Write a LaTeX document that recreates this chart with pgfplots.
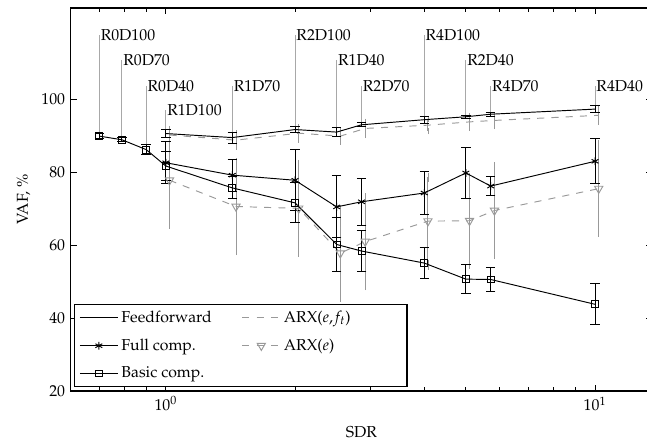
\documentclass[border=0pt]{standalone}
\usepackage[T1]{fontenc}
\usepackage{mathpazo}
\usepackage{pgfplots}
\usepackage{pgfplotstable}
\pgfplotsset{compat=1.18}
\usetikzlibrary{calc}

\definecolor{arxgray}{gray}{0.6}
\definecolor{pingray}{gray}{0.66}

% SDR, VAF (%), std
\pgfplotstableread{
x      y     e
1.0    90.6  1.2
1.4286 89.5  1.5
2.0    91.7  0.8
2.5    91.0  1.2
2.857  93.0  0.5
4.0    94.4  0.9
5.0    95.2  0.4
5.714  95.9  0.5
10     97.3  0.9
}\feedforward

\pgfplotstableread{
x      y     e
1.0    82.6  5.8
1.4286 79.2  4.4
2.0    77.8  8.3
2.5    70.5  8.5
2.857  71.9  6.5
4.0    74.3  6.0
5.0    79.8  7.0
5.714  76.2  2.6
10     83.0  6.2
}\fullcomp

\pgfplotstableread{
x      y     e
0.7    89.9  0.6
0.79   88.9  0.5
0.9    86.2  1.4
1.0    81.7  4.0
1.4286 75.7  3.0
2.0    71.6  5.5
2.5    60.2  7.3
2.857  58.4  5.6
4.0    55.1  4.2
5.0    50.7  4.0
5.714  50.6  3.2
10     43.8  5.6
}\basiccomp

% ARX points sit slightly to the right of their SDR
\pgfplotstableread{
x      y     e
1.02   90.2  1.6
1.457  88.8  1.8
2.04   90.7  1.7
2.55   89.9  1.5
2.914  92.0  1.8
4.08   92.9  1.6
5.10   93.8  1.6
5.829  94.2  1.5
10.2   95.6  1.7
}\arxef

\pgfplotstableread{
x      y     e
1.02   77.8  12.0
1.457  70.6  12.0
2.04   70.1  12.0
2.55   57.8  12.0
2.914  61.0  12.0
4.08   66.6  12.0
5.10   66.7  11.8
5.829  69.5  12.0
10.2   75.5  11.9
}\arxe

\begin{document}
\begin{tikzpicture}
\begin{axis}[
    scale only axis, width=367.9pt, height=242.4pt,
    xmode=log, xmin=0.6, xmax=13.58,
    ymin=20, ymax=125,
    ytick={20,40,60,80,100},
    tick align=inside,
    major tick length=4pt, minor tick length=2.5pt,
    axis line style={line width=0.9pt},
    every tick/.style={black, line width=0.5pt},
    xlabel={SDR}, ylabel={VAF, \%},
    xlabel style={yshift=-3pt},
    legend columns=2,
    legend cell align=left,
    legend image code/.code={
        \draw[mark repeat=2, mark phase=2] plot coordinates {(0pt,0pt) (12pt,0pt) (24pt,0pt)};},
    legend style={at={(rel axis cs:0,0)}, anchor=south west,
        xshift=2.1pt, yshift=2.5pt, draw=black, line width=0.9pt,
        row sep=5pt, /tikz/every even column/.append style={column sep=17pt}},
    error bars/error bar style={line width=0.6pt},
    error bars/error mark options={rotate=90, mark size=3pt, line width=0.6pt},
]
% legend
\addlegendimage{black, line width=0.6pt, no markers}
\addlegendentry{Feedforward}
\addlegendimage{arxgray, line width=0.6pt, dash pattern=on 4.5pt off 4.5pt, no markers}
\addlegendentry{\makebox[73pt][l]{ARX($e$,$f_t$)}}
\addlegendimage{black, line width=0.6pt, mark=asterisk, mark size=2.5pt}
\addlegendentry{Full comp.}
\addlegendimage{arxgray, line width=0.6pt, dash pattern=on 4.5pt off 4.5pt, mark=triangle, mark size=3pt, mark options={rotate=180, solid}}
\addlegendentry{ARX($e$)}
\addlegendimage{black, line width=0.6pt, mark=square, mark size=2.2pt}
\addlegendentry{Basic comp.}

% case labels
\draw[pingray, line width=0.6pt] (axis cs:0.7,90.5) -- (axis cs:0.7,117.6) node[black, anchor=west, inner sep=0.6pt]{R0D100};
\draw[pingray, line width=0.6pt] (axis cs:0.79,89.4) -- (axis cs:0.79,110.7) node[black, anchor=west, inner sep=0.6pt]{R0D70};
\draw[pingray, line width=0.6pt] (axis cs:0.9,87.6) -- (axis cs:0.9,103.6) node[black, anchor=west, inner sep=0.6pt]{R0D40};
\draw[pingray, line width=0.6pt] (axis cs:1.0,91.8) -- (axis cs:1.0,97.0) node[black, anchor=west, inner sep=0.6pt]{R1D100};
\draw[pingray, line width=0.6pt] (axis cs:1.4286,91.0) -- (axis cs:1.4286,103.6) node[black, anchor=west, inner sep=0.6pt]{R1D70};
\draw[pingray, line width=0.6pt] (axis cs:2.0,92.5) -- (axis cs:2.0,117.6) node[black, anchor=west, inner sep=0.6pt]{R2D100};
\draw[pingray, line width=0.6pt] (axis cs:2.5,92.2) -- (axis cs:2.5,110.7) node[black, anchor=west, inner sep=0.6pt]{R1D40};
\draw[pingray, line width=0.6pt] (axis cs:2.857,93.5) -- (axis cs:2.857,103.6) node[black, anchor=west, inner sep=0.6pt]{R2D70};
\draw[pingray, line width=0.6pt] (axis cs:4.0,95.3) -- (axis cs:4.0,117.6) node[black, anchor=west, inner sep=0.6pt]{R4D100};
\draw[pingray, line width=0.6pt] (axis cs:5.0,95.6) -- (axis cs:5.0,110.7) node[black, anchor=west, inner sep=0.6pt]{R2D40};
\draw[pingray, line width=0.6pt] (axis cs:5.714,96.4) -- (axis cs:5.714,103.6) node[black, anchor=west, inner sep=0.6pt]{R4D70};
\draw[pingray, line width=0.6pt] (axis cs:10,98.2) -- (axis cs:10,103.6) node[black, anchor=west, inner sep=0.6pt]{R4D40};

% gray series
\addplot[arxgray, line width=0.6pt, dash pattern=on 4.5pt off 4.5pt, no markers, forget plot,
    error bars/.cd, y dir=both, y explicit,
    error bar style={solid, arxgray}, error mark options={solid, arxgray}]
    table[x=x, y=y, y error=e]{\arxef};
\addplot[arxgray, line width=0.6pt, dash pattern=on 4.5pt off 4.5pt, mark=triangle, mark size=3pt,
    mark options={rotate=180, solid}, forget plot,
    error bars/.cd, y dir=both, y explicit,
    error bar style={solid, arxgray}, error mark options={solid, arxgray}]
    table[x=x, y=y, y error=e]{\arxe};
% black series
\addplot[black, line width=0.6pt, no markers, forget plot,
    error bars/.cd, y dir=both, y explicit]
    table[x=x, y=y, y error=e]{\feedforward};
\addplot[black, line width=0.6pt, mark=asterisk, mark size=2.5pt, forget plot,
    error bars/.cd, y dir=both, y explicit]
    table[x=x, y=y, y error=e]{\fullcomp};
\addplot[black, line width=0.6pt, mark=square, mark size=2.2pt, forget plot,
    error bars/.cd, y dir=both, y explicit]
    table[x=x, y=y, y error=e]{\basiccomp};
\end{axis}
\pgfresetboundingbox
\path[use as bounding box] ($(current axis.south west)+(-44.7pt,-32.3pt)$)
    rectangle ($(current axis.south west)+(364.7pt,247.5pt)$);
\end{tikzpicture}
\end{document}
